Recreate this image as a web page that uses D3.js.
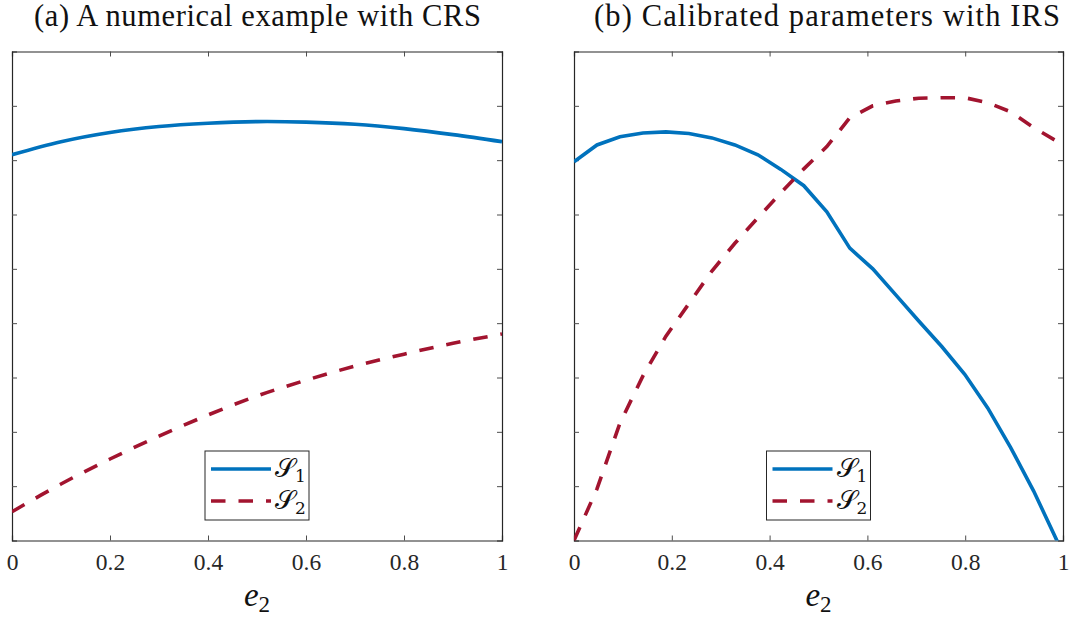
<!DOCTYPE html>
<html><head><meta charset="utf-8">
<script src="https://cdn.jsdelivr.net/npm/d3@7"></script>
<style>body{margin:0;background:#fff}svg{display:block}
.xt text{font-family:'Liberation Serif',serif;font-size:23.5px;fill:#262626}</style></head>
<body>
<svg id="c" width="1070" height="617"></svg>
<script>
// ---- data ----
const titles = ["(a) A numerical example with CRS", "(b) Calibrated parameters with IRS"];
const xTicks = [0, 0.2, 0.4, 0.6, 0.8, 1];
const xTickLabels = ["0", "0.2", "0.4", "0.6", "0.8", "1"];
const yTicks = [1, 2, 3, 4, 5, 6, 7, 8];
const xLabel = "e";
const xLabelSub = "2";
const seriesNames = ["𝒮", "𝒮"];
const seriesSubs = ["1", "2"];

// panel (a)
const xA  = [0, 0.1, 0.2, 0.3, 0.4, 0.5, 0.6, 0.7, 0.8, 0.9, 1.0];
const s1A = [7.10, 7.34, 7.51, 7.62, 7.68, 7.71, 7.70, 7.66, 7.58, 7.47, 7.34];
const s2A = [0.53, 1.04, 1.50, 1.92, 2.31, 2.66, 2.95, 3.21, 3.43, 3.63, 3.80];

// panel (b)
const xB  = [0, 0.047, 0.094, 0.141, 0.188, 0.235, 0.282, 0.329, 0.376, 0.423, 0.470,
             0.517, 0.564, 0.611, 0.658, 0.705, 0.752, 0.799, 0.846, 0.893, 0.940, 0.987, 1.0];
const s1B = [6.97, 7.28, 7.43, 7.50, 7.52, 7.49, 7.41, 7.28, 7.10, 6.83, 6.53,
             6.05, 5.38, 5.00, 4.52, 4.04, 3.57, 3.06, 2.44, 1.71, 0.91, 0.01, -0.29];
const s2B = [0.00, 0.95, 2.16, 3.03, 3.76, 4.36, 4.96, 5.47, 5.94, 6.40, 6.84,
             7.25, 7.78, 8.00, 8.09, 8.14, 8.15, 8.15, 8.06, 7.89, 7.60, 7.35, 7.31];

// ---- drawing ----
const svg = d3.select("#c");
const BLUE = "#0072BD", RED = "#A2142F", AX = "#262626";
const yTop = 51.5, yBot = 540.5;
const panels = [
  {x0: 12, x1: 502, title: titles[0], xs: xA, s1: s1A, s2: s2A, curve: d3.curveCatmullRom, tw: 447, tc: 257.5},
  {x0: 574, x1: 1063, title: titles[1], xs: xB, s1: s1B, s2: s2B, curve: d3.curveLinear, tw: 466, tc: 827}
];

panels.forEach((p, i) => {
  const x = d3.scaleLinear().domain([0, 1]).range([p.x0, p.x1]);
  const y = d3.scaleLinear().domain([0, 9]).range([yBot, yTop]);
  const g = svg.append("g");

  const cid = "clip" + i;
  svg.append("clipPath").attr("id", cid).append("rect")
    .attr("x", p.x0).attr("y", yTop).attr("width", p.x1 - p.x0).attr("height", yBot - yTop);

  const axB = d3.axisBottom(x).tickValues(xTicks).tickSize(-5).tickPadding(13)
    .tickFormat((d, k) => xTickLabels[k]);
  const gB = g.append("g").attr("class", "xt").attr("transform", `translate(0,${yBot})`).call(axB);
  gB.attr("font-family", "Liberation Serif").attr("font-size", 23.5);
  const gT = g.append("g").attr("transform", `translate(0,${yTop})`)
    .call(d3.axisTop(x).tickValues(xTicks).tickSize(-5).tickFormat(""));
  const gL = g.append("g").attr("transform", `translate(${p.x0},0)`)
    .call(d3.axisLeft(y).tickValues(yTicks).tickSize(-5).tickFormat(""));
  const gR = g.append("g").attr("transform", `translate(${p.x1},0)`)
    .call(d3.axisRight(y).tickValues(yTicks).tickSize(-5).tickFormat(""));
  [gB, gT, gL, gR].forEach(a => {
    a.select(".domain").attr("stroke", AX).attr("stroke-width", 1.2);
    a.selectAll(".tick line").attr("stroke", "#4d4d4d").attr("stroke-width", 1);
  });

  const line = (ys) => d3.line().x((d, k) => x(p.xs[k])).y(d => y(d)).curve(p.curve)(ys);
  g.append("path").attr("d", line(p.s1)).attr("clip-path", `url(#${cid})`)
    .attr("fill", "none").attr("stroke", BLUE).attr("stroke-width", 3.6);
  g.append("path").attr("d", line(p.s2)).attr("clip-path", `url(#${cid})`)
    .attr("fill", "none").attr("stroke", RED).attr("stroke-width", 3.6)
    .attr("stroke-dasharray", "14.5,13");

  const t = svg.append("text").attr("x", p.tc).attr("y", 26).attr("text-anchor", "middle")
    .style("font-family", "'Liberation Serif', serif").attr("font-size", 30.5).attr("fill", "#111")
    .text(p.title);
  t.attr("textLength", p.tw).attr("lengthAdjust", "spacing");

  const xl = svg.append("text").attr("x", (p.x0 + p.x1) / 2).attr("y", 606).attr("text-anchor", "middle")
    .style("font-family", "'Liberation Serif', serif").attr("fill", "#111");
  xl.append("tspan").attr("font-style", "italic").attr("font-size", 33).text(xLabel);
  xl.append("tspan").attr("font-size", 23).attr("dy", 6).text(xLabelSub);

  const cx = (p.x0 + p.x1) / 2;
  const lg = svg.append("g");
  lg.append("rect").attr("x", cx - 52).attr("y", 451).attr("width", 104).attr("height", 69)
    .attr("fill", "#fff").attr("stroke", AX).attr("stroke-width", 1);
  [[BLUE, null, 469], [RED, "14.5,13", 501]].forEach((s, k) => {
    lg.append("line").attr("x1", cx - 46).attr("x2", cx + 14).attr("y1", s[2]).attr("y2", s[2])
      .attr("stroke", s[0]).attr("stroke-width", 3.6).attr("stroke-dasharray", s[1]);
    const tx = lg.append("text").attr("x", cx + 18).attr("y", s[2] + 8)
      .style("font-family", "'DejaVu Serif', 'Liberation Serif', serif").attr("fill", "#111");
    tx.append("tspan").attr("font-size", 26).text(seriesNames[k]);
    tx.append("tspan").attr("font-size", 17).attr("dy", 5).text(seriesSubs[k]);
  });
});
</script>
</body></html>
